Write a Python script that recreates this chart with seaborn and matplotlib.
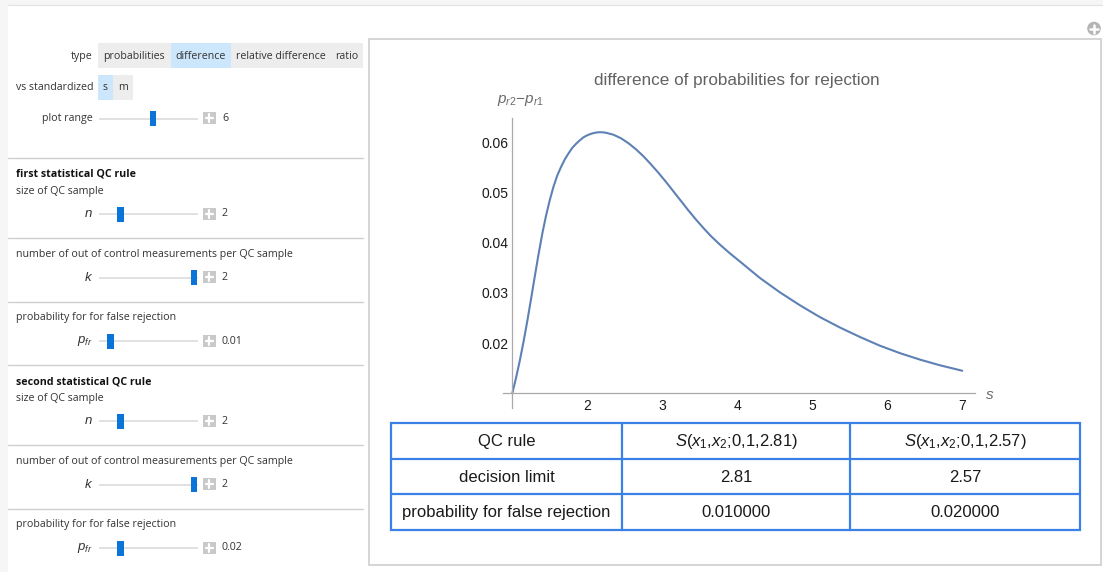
import numpy as np
import pandas as pd
import matplotlib
matplotlib.use("Agg")
import matplotlib.pyplot as plt
import seaborn as sns
from matplotlib.patches import Rectangle, Circle
from matplotlib.ticker import FixedLocator

# ---------------- data ----------------
s_values = [1.00, 1.05, 1.10, 1.15, 1.20, 1.25, 1.30, 1.35, 1.40, 1.45,
            1.50, 1.55, 1.60, 1.65, 1.70, 1.75, 1.80, 1.85, 1.90, 1.95,
            2.00, 2.05, 2.10, 2.15, 2.20, 2.25, 2.35, 2.45, 2.55, 2.65,
            2.75, 2.85, 2.95, 3.05, 3.15, 3.25, 3.35, 3.45, 3.55, 3.65,
            3.77, 3.90, 4.04, 4.30, 4.57, 4.84, 5.10, 5.37, 5.64, 5.90,
            6.17, 6.44, 6.70, 7.00]
diff_values = [0.0100, 0.0131, 0.0165, 0.0203, 0.0244, 0.0288, 0.0333, 0.0377, 0.0418, 0.0454,
               0.0485, 0.0512, 0.0534, 0.0551, 0.0566, 0.0578, 0.0589, 0.0597, 0.0604, 0.0610,
               0.0614, 0.0617, 0.0619, 0.0620, 0.0620, 0.0619, 0.0615, 0.0608, 0.0598, 0.0586,
               0.0572, 0.0556, 0.0539, 0.0521, 0.0502, 0.0483, 0.0464, 0.0446, 0.0429, 0.0413,
               0.0396, 0.0379, 0.0362, 0.0330, 0.0301, 0.0275, 0.0252, 0.0231, 0.0212, 0.0195,
               0.0180, 0.0167, 0.0156, 0.0145]

x_major = [2, 3, 4, 5, 6, 7]
x_tick_labels = ["2", "3", "4", "5", "6", "7"]
y_major = [0.02, 0.03, 0.04, 0.05, 0.06]
y_tick_labels = ["0.02", "0.03", "0.04", "0.05", "0.06"]

chart_title = "difference of probabilities for rejection"
y_axis_label = r"$p_{r2}{-}p_{r1}$"
x_axis_label = r"$s$"

table_row_labels = ["QC rule", "decision limit", "probability for false rejection"]
table_rule1 = [r"$S$($x_1$,$x_2$;0,1,2.81)", "2.81", "0.010000"]
table_rule2 = [r"$S$($x_1$,$x_2$;0,1,2.57)", "2.57", "0.020000"]

type_options = ["probabilities", "difference", "relative difference", "ratio"]
vs_options = ["s", "m"]
plot_range_value = "6"
rule1_values = ["2", "2", "0.01"]
rule2_values = ["2", "2", "0.02"]

# ---------------- style ----------------
sns.set_theme(style="white")
plt.rcParams["font.family"] = ["Liberation Sans", "DejaVu Sans"]
plt.rcParams["mathtext.fontset"] = "custom"
plt.rcParams["mathtext.rm"] = "Liberation Sans"
plt.rcParams["mathtext.it"] = "Liberation Sans:italic"
plt.rcParams["mathtext.bf"] = "Liberation Sans:bold"

W, H = 1103, 572
fig = plt.figure(figsize=(W / 100, H / 100), dpi=100)
fig.patch.set_facecolor("white")

bg = fig.add_axes([0, 0, 1, 1])
bg.set_xlim(0, W)
bg.set_ylim(H, 0)
bg.axis("off")

# outer frame
bg.add_patch(Rectangle((0, 0), W, 4.5, color="#f6f6f6", lw=0))
bg.add_patch(Rectangle((0, 0), 7.5, H, color="#f6f6f6", lw=0))
bg.plot([7.5, W], [4.5, 4.5], color="#e2e2e2", lw=0.8)

UI = ["Open Sans", "DejaVu Sans"]
ui_size = 7.7
ui_color = "#333333"

# type buttons
bg.add_patch(Rectangle((98, 43), 265, 25, color="#ededed", lw=0))
bg.add_patch(Rectangle((170.5, 43), 60, 25, color="#cce6fb", lw=0))
bg.text(93, 56, "type", ha="right", va="center", family=UI, fontsize=ui_size, color=ui_color)
for xpos, lab in zip([103, 175, 236, 335], type_options):
    bg.text(xpos, 56.5, lab, ha="left", va="center", family=UI, fontsize=ui_size, color=ui_color)

# vs standardized
bg.add_patch(Rectangle((98, 74.5), 35, 25.5, color="#ededed", lw=0))
bg.add_patch(Rectangle((98, 74.5), 15, 25.5, color="#cce6fb", lw=0))
bg.text(93, 87, "vs standardized", ha="right", va="center", family=UI, fontsize=ui_size, color=ui_color)
bg.text(105.5, 88, vs_options[0], ha="center", va="center", family=UI, fontsize=ui_size, color=ui_color)
bg.text(123, 88, vs_options[1], ha="center", va="center", family=UI, fontsize=ui_size, color=ui_color)


def slider(y, hx, val, label, italic=False):
    bg.plot([99, 198], [y, y], color="#d8d8d8", lw=1.1, solid_capstyle="butt", zorder=2)
    bg.add_patch(Rectangle((hx, y - 7.5), 6.5, 15, color="#0a74d8", lw=0, zorder=3))
    bg.add_patch(Rectangle((203, y - 6.5), 12.5, 12, color="#c9c9c9", lw=0, zorder=3))
    bg.plot([205.5, 213], [y - 0.5, y - 0.5], color="white", lw=1.6, zorder=4)
    bg.plot([209.3, 209.3], [y - 4.5, y + 3.5], color="white", lw=1.6, zorder=4)
    bg.text(222, y, val, ha="left", va="center", family=UI, fontsize=ui_size, color=ui_color)
    if italic:
        bg.text(93, y, label, ha="right", va="center", fontsize=9.5, color=ui_color)
    else:
        bg.text(93, y, label, ha="right", va="center", family=UI, fontsize=ui_size, color=ui_color)


slider(118.5, 149.5, plot_range_value, "plot range")


def sep(y):
    bg.plot([8, 363], [y, y], color="#cfcfcf", lw=1.0)


def left_text(y, t, bold=False):
    bg.text(16, y, t, ha="left", va="center", family=UI, fontsize=ui_size,
            color="#111111" if bold else ui_color, fontweight="bold" if bold else "normal")


for base, title, vals, hxs in [(0, "first statistical QC rule", rule1_values, [117, 190.5, 107]),
                               (207, "second statistical QC rule", rule2_values, [117, 190.5, 117])]:
    sep(158 + base)
    left_text(174.5 + base, title, bold=True)
    left_text(191.5 + base, "size of QC sample")
    slider(214 + base, hxs[0], vals[0], "$n$", italic=True)
    sep(238 + base)
    left_text(254.5 + base, "number of out of control measurements per QC sample")
    slider(277.5 + base, hxs[1], vals[1], "$k$", italic=True)
    sep(301.5 + base)
    left_text(317.5 + base, "probability for for false rejection")
    slider(341 + base, hxs[2], vals[2], "$p_{fr}$", italic=True)

# right panel frame
bg.add_patch(Rectangle((369, 38.5), 732, 526, fill=False, edgecolor="#d2d2d2", lw=1.3))
bg.add_patch(Circle((1094, 28.5), 6.8, color="#b5b5b5", lw=0))
bg.plot([1090, 1098], [28.5, 28.5], color="white", lw=1.8)
bg.plot([1094, 1094], [24.5, 32.5], color="white", lw=1.8)

# ---------------- plot ----------------
ax = fig.add_axes([502.7 / W, 1 - 408.4 / H, 472.3 / W, 290.2 / H])
ax.patch.set_alpha(0)
df = pd.DataFrame({"s": s_values, "diff": diff_values})
sns.lineplot(data=df, x="s", y="diff", ax=ax, color="#5e81b5", lw=1.5, estimator=None)
ax.set_xlim(0.872, 7.17)
ax.set_ylim(0.0070, 0.0648)
ax.set_xlabel("")
ax.set_ylabel("")
for sp in ["top", "right"]:
    ax.spines[sp].set_visible(False)
ax.spines["left"].set_position(("data", 1))
ax.spines["bottom"].set_position(("data", 0.01))
for sp in ["left", "bottom"]:
    ax.spines[sp].set_color("#aaaaaa")
    ax.spines[sp].set_linewidth(0.9)

ax.set_xticks(x_major)
ax.set_xticklabels(x_tick_labels)
ax.set_yticks(y_major)
ax.set_yticklabels(y_tick_labels)
xminor = [v for v in np.arange(1.2, 7.05, 0.2) if abs(v - round(v)) > 1e-6]
yminor = [v for v in np.arange(0.008, 0.0645, 0.002) if min(abs(v - m) for m in y_major + [0.01]) > 1e-6]
ax.xaxis.set_minor_locator(FixedLocator(xminor))
ax.yaxis.set_minor_locator(FixedLocator(yminor))
ax.tick_params(which="both", direction="in", color="#aaaaaa", width=0.8)
ax.tick_params(which="major", length=4.5, labelsize=10, labelcolor="#1a1a1a")
ax.tick_params(which="minor", length=2.5)
ax.tick_params(axis="x", which="major", pad=4)
ax.tick_params(axis="y", which="major", pad=3)

bg.text(737, 80, chart_title, ha="center", va="center", fontsize=12.3, color="#626262")
bg.text(497, 101, y_axis_label, ha="left", va="center", fontsize=11, color="#6a6a6a")
bg.text(985, 395, x_axis_label, ha="left", va="center", fontsize=11, color="#6a6a6a")

# ---------------- table ----------------
cols = [391, 622, 850, 1080]
rows = [423, 459, 494, 530]
tcolor = "#3b80e6"
bg.add_patch(Rectangle((cols[0], rows[0]), cols[-1] - cols[0], rows[-1] - rows[0],
                       fill=False, edgecolor=tcolor, lw=1.6))
for c in cols[1:-1]:
    bg.plot([c, c], [rows[0], rows[-1]], color=tcolor, lw=1.6)
for r in rows[1:-1]:
    bg.plot([cols[0], cols[-1]], [r, r], color=tcolor, lw=1.6)
for i in range(3):
    yc = (rows[i] + rows[i + 1]) / 2
    for j, col in enumerate([table_row_labels, table_rule1, table_rule2]):
        xc = (cols[j] + cols[j + 1]) / 2
        bg.text(xc, yc + 0.5, col[i], ha="center", va="center", fontsize=12, color="#1a1a1a")

fig.savefig("out.png", dpi=100)
